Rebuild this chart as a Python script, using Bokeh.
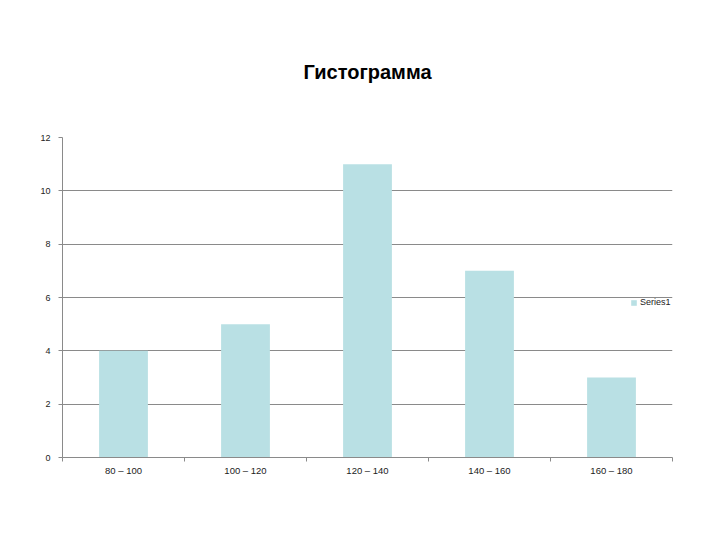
from bokeh.plotting import figure
from bokeh.models import FixedTicker, Range1d, ColumnDataSource, Legend, LegendItem
from bokeh.embed import file_html
from bokeh.resources import INLINE

categories = ["80 – 100", "100 – 120", "120 – 140", "140 – 160", "160 – 180"]
values = [4, 5, 11, 7, 3]
y_ticks = [0, 2, 4, 6, 8, 10, 12]
title_text = "Гистограмма"
series_name = "Series1"

n = len(categories)
centers = [i + 0.5 for i in range(n)]
src = ColumnDataSource(dict(x=centers, top=values))

p = figure(width=704, height=524, output_backend="svg", toolbar_location=None,
           x_range=Range1d(0, n), y_range=Range1d(0, 12),
           min_border_left=62, min_border_right=32, min_border_top=137, min_border_bottom=67)
p.outline_line_color = None
p.background_fill_color = "white"
p.border_fill_color = "white"

p.title.text = title_text
p.title.align = "center"
p.title.text_font = "Liberation Sans"
p.title.text_font_size = "20px"
p.title.text_font_style = "bold"
p.title.text_color = "black"
p.title.standoff = 110

r = p.vbar(x="x", top="top", width=0.4, bottom=0, source=src,
           fill_color="#b9e0e4", line_color=None)

grey = "#8a8a8a"
p.xaxis.ticker = FixedTicker(ticks=centers, minor_ticks=list(range(n + 1)))
p.xaxis.major_label_overrides = {c: lab for c, lab in zip(centers, categories)}
p.xaxis.major_tick_line_color = None
p.xaxis.major_tick_out = 0
p.xaxis.major_tick_in = 0
p.xaxis.minor_tick_line_color = grey
p.xaxis.minor_tick_out = 4
p.xaxis.minor_tick_in = 0
p.xaxis.axis_line_color = grey
p.xaxis.major_label_text_font = "Liberation Sans"
p.xaxis.major_label_text_font_size = "9.5px"
p.xaxis.major_label_text_color = "#222222"
p.xaxis.major_label_standoff = 3

p.yaxis.ticker = FixedTicker(ticks=y_ticks)
p.yaxis.minor_tick_line_color = None
p.yaxis.major_tick_line_color = grey
p.yaxis.major_tick_out = 4
p.yaxis.major_tick_in = 0
p.yaxis.axis_line_color = grey
p.yaxis.major_label_text_font = "Liberation Sans"
p.yaxis.major_label_text_font_size = "9px"
p.yaxis.major_label_text_color = "#222222"
p.yaxis.major_label_standoff = 8

p.xgrid.grid_line_color = None
p.ygrid.ticker = FixedTicker(ticks=y_ticks)
p.ygrid.grid_line_color = grey

legend = Legend(items=[LegendItem(label=series_name, renderers=[r])],
                location=(568, 150), background_fill_alpha=0, border_line_color=None,
                padding=0, margin=0, glyph_width=7, glyph_height=7, label_height=10,
                label_standoff=3, label_text_font="Liberation Sans",
                label_text_font_size="9px", label_text_color="#222222")
p.add_layout(legend)

open("out.html", "w").write(file_html(p, INLINE))
